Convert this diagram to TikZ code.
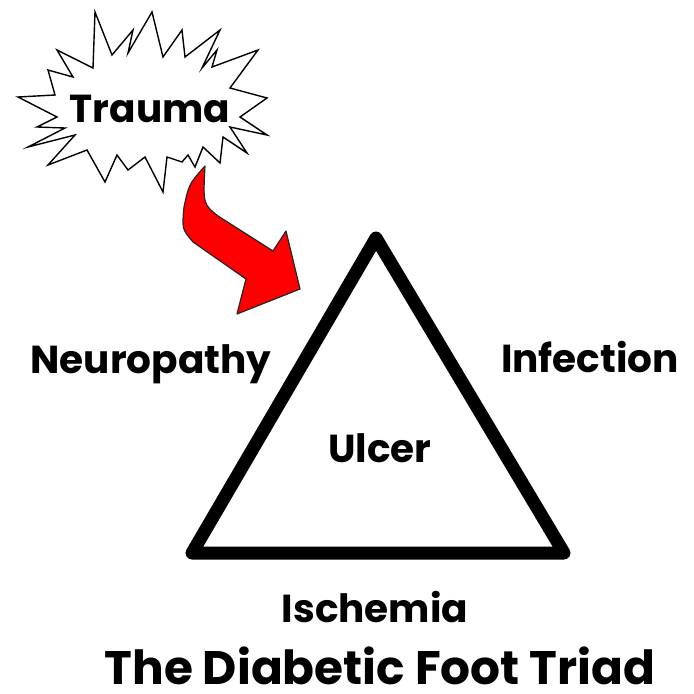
\documentclass[tikz,border=0pt]{standalone}
\usepackage{fontspec}
\setmainfont{Poppins}

\tikzset{
  lbl/.style={font=\bfseries\fontsize{39}{42}\selectfont, anchor=base, inner sep=0pt},
  ttl/.style={font=\bfseries\fontsize{47}{50}\selectfont, anchor=base, inner sep=0pt, text depth=0pt},
  burst/.style={draw=black, line width=1.4pt, fill=white, line join=miter},
  bigarrow/.style={draw=black!85, line width=1.2pt, fill=red, line join=round},
  triad/.style={draw=black, line width=13pt, line join=round},
}

\begin{document}
\begin{tikzpicture}[x=1pt, y=-1pt]
    \useasboundingbox (0,0) rectangle (694,694);

    % --- Trauma burst ---
    \draw[burst] (95,12) -- (112,55) -- (133,30) -- (128,53) -- (152,12) -- (163,57)
        -- (182,30) -- (185,57) -- (220,30) -- (202,68) -- (217,50) -- (212,67)
        -- (258,50) -- (230,88) -- (267,98) -- (240,117) -- (267,135) -- (230,127)
        -- (247,153) -- (223,137) -- (220,163) -- (203,147) -- (195,167) -- (188,155)
        -- (182,162) -- (167,157) -- (163,192) -- (145,157) -- (128,170) -- (117,155)
        -- (105,182) -- (87,150) -- (48,165) -- (75,135) -- (28,147) -- (65,128)
        -- (37,127) -- (57,117) -- (18,97) -- (55,95) -- (48,70) -- (73,77)
        -- (57,50) -- (93,68) -- cycle;
    \node[lbl] (trauma) at (150,122) {Trauma};

    % Red arrow from the burst onto the triangle
    \draw[bigarrow] (205,166) .. controls (189,184) .. (184,207)
        .. controls (182,229) .. (193,242) -- (246,279) -- (237,314) -- (300,289)
        -- (286,231) -- (273,251) -- (218,216) .. controls (203,204) .. (205,166) -- cycle;

    % --- Triangle ---
    \coordinate (top) at (376,238);
    \coordinate (botleft) at (192,553);
    \coordinate (botright) at (564,553);
    \draw[triad] (top) -- (botright) -- (botleft) -- cycle;

    % Labels
    \node[lbl] (ulcer) at (380,462) {Ulcer};
    \node[lbl] (neuro) at (151,373) {Neuropathy};
    \node[lbl] (infect) at (590,372) {Infection};
    \node[lbl] (isch) at (375,622) {Ischemia};
    \node[ttl] (title) at (380,684) {The Diabetic Foot Triad};
\end{tikzpicture}
\end{document}
